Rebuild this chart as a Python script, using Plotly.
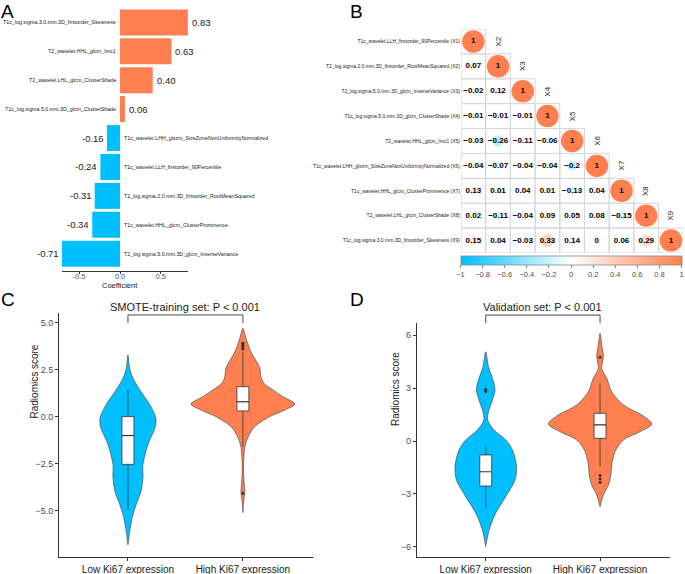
import numpy as np
import plotly.graph_objects as go

W, H = 685, 574
FONT = "Liberation Sans, Arial, sans-serif"
BLUE = "#00BFFF"
ORANGE = "#FF7F50"
AXC = "#333333"
TICKC = "#4D4D4D"

# ---------------- Panel A data ----------------
coef_features = [
    "T1c_log.sigma.3.0.mm.3D_firstorder_Skewness",
    "T2_wavelet.HHL_glcm_Imc1",
    "T2_wavelet.LHL_glcm_ClusterShade",
    "T1c_log.sigma.5.0.mm.3D_glcm_ClusterShade",
    "T1c_wavelet.LHH_glszm_SizeZoneNonUniformityNormalized",
    "T1c_wavelet.LLH_firstorder_90Percentile",
    "T2_log.sigma.2.0.mm.3D_firstorder_RootMeanSquared",
    "T1c_wavelet.HHL_glcm_ClusterProminence",
    "T2_log.sigma.5.0.mm.3D_glcm_InverseVariance",
]
coef_values = [0.83, 0.63, 0.40, 0.06, -0.16, -0.24, -0.31, -0.34, -0.71]
coef_tickvals = [-0.5, 0.0, 0.5]
coef_ticktext = ["-0.5", "0.0", "0.5"]

# ---------------- Panel B data ----------------
corr_row_labels = [
    "T1c_wavelet.LLH_firstorder_90Percentile (X1)",
    "T2_log.sigma.2.0.mm.3D_firstorder_RootMeanSquared (X2)",
    "T2_log.sigma.5.0.mm.3D_glcm_InverseVariance (X3)",
    "T1c_log.sigma.5.0.mm.3D_glcm_ClusterShade (X4)",
    "T2_wavelet.HHL_glcm_Imc1 (X5)",
    "T1c_wavelet.LHH_glszm_SizeZoneNonUniformityNormalized (X6)",
    "T1c_wavelet.HHL_glcm_ClusterProminence (X7)",
    "T2_wavelet.LHL_glcm_ClusterShade (X8)",
    "T1c_log.sigma.3.0.mm.3D_firstorder_Skewness (X9)",
]
corr_col_labels = ["X1", "X2", "X3", "X4", "X5", "X6", "X7", "X8", "X9"]
corr_lower = [
    [1],
    [0.07, 1],
    [-0.02, 0.12, 1],
    [-0.01, -0.01, -0.01, 1],
    [-0.03, -0.26, -0.11, -0.06, 1],
    [-0.04, -0.07, -0.04, -0.04, -0.2, 1],
    [0.13, 0.01, 0.04, 0.01, -0.13, 0.04, 1],
    [0.02, -0.11, -0.04, 0.09, 0.05, 0.08, -0.15, 1],
    [0.15, 0.04, -0.03, 0.33, 0.14, 0, 0.06, 0.29, 1],
]
cbar_tickvals = [-1, -0.8, -0.6, -0.4, -0.2, 0, 0.2, 0.4, 0.6, 0.8, 1]
cbar_ticktext = ["\u22121", "\u22120.8", "\u22120.6", "\u22120.4", "\u22120.2", "0",
                 "0.2", "0.4", "0.6", "0.8", "1"]

# ---------------- Panels C / D data ----------------
groups = ["Low Ki67 expression", "High Ki67 expression"]

# violin outlines: score level and half width (category units)
c_low_y = [3.30, 2.59, 2.06, 1.35, 0.64, -0.07, -0.60, -1.31, -2.02, -2.55, -3.26, -3.97, -4.68, -5.39, -6.10, -6.81]
c_low_w = [0.0, 0.015, 0.043, 0.113, 0.191, 0.243, 0.235, 0.183, 0.148, 0.130, 0.130, 0.113, 0.070, 0.035, 0.015, 0.0]
c_high_y = [4.72, 4.27, 3.83, 3.39, 2.94, 2.59, 2.14, 1.79, 1.44, 1.08, 0.69, 0.37, 0.02, -0.51, -1.05, -1.58, -2.11, -2.82, -3.53, -3.97, -4.50, -5.09]
c_high_w = [0.0, 0.023, 0.046, 0.076, 0.119, 0.148, 0.157, 0.183, 0.261, 0.348, 0.452, 0.365, 0.235, 0.104, 0.046, 0.017, 0.009, 0.006, 0.011, 0.017, 0.006, 0.0]
d_low_y = [5.05, 4.20, 3.45, 2.89, 2.32, 1.66, 1.19, 0.62, 0.06, -0.51, -1.45, -2.21, -3.15, -4.09, -5.04, -5.98]
d_low_w = [0.0, 0.024, 0.064, 0.081, 0.059, 0.024, 0.017, 0.073, 0.175, 0.234, 0.269, 0.256, 0.175, 0.087, 0.029, 0.0]
d_high_y = [6.09, 5.43, 4.77, 4.11, 3.55, 2.79, 2.04, 1.47, 0.96, 0.53, 0.06, -0.60, -1.36, -1.92, -2.49, -3.06, -3.72]
d_high_w = [0.0, 0.015, 0.029, 0.015, 0.059, 0.102, 0.204, 0.365, 0.452, 0.350, 0.204, 0.131, 0.102, 0.094, 0.073, 0.029, 0.0]

# box statistics [low, high]
c_q1 = [-2.52, 0.32]
c_med = [-0.99, 0.81]
c_q3 = [0.02, 1.61]
c_lo = [-4.95, -1.60]
c_hi = [1.44, 3.47]
c_out_x = [1, 1, 1, 1, 1]
c_out_y = [3.62, 3.72, 3.82, 3.92, -4.06]

d_q1 = [-2.55, 0.15]
d_med = [-1.74, 0.91]
d_q3 = [-0.79, 1.57]
d_lo = [-3.81, -1.45]
d_hi = [-0.28, 3.27]
d_out_x = [0, 0, 1, 1, 1, 1]
d_out_y = [2.80, 2.92, 4.74, -1.95, -2.15, -2.35]

c_yticks = [5.0, 2.5, 0.0, -2.5, -5.0]
c_yticktext = ["5.0", "2.5", "0.0", "\u22122.5", "\u22125.0"]
d_yticks = [6, 3, 0, -3, -6]
d_yticktext = ["6", "3", "0", "\u22123", "\u22126"]


def pxx(px):
    return px / W


def pxy(py):
    return 1 - py / H


fig = go.Figure()
annotations = []
shapes = []

# ---------------- Panel A ----------------
bar_y = list(range(len(coef_values)))
fig.add_trace(go.Bar(
    x=coef_values, y=bar_y, orientation="h", width=0.9,
    marker=dict(color=[ORANGE if v > 0 else BLUE for v in coef_values], line=dict(width=0)),
    xaxis="x", yaxis="y", showlegend=False, hoverinfo="skip"))
for i, (name, v) in enumerate(zip(coef_features, coef_values)):
    pos = v > 0
    annotations.append(dict(
        x=v, y=i, xref="x", yref="y", text=f"{v:.2f}", showarrow=False,
        xanchor="left" if pos else "right", xshift=2 if pos else -1,
        font=dict(size=9.5, color="#1A1A1A", family=FONT)))
    annotations.append(dict(
        x=0, y=i, xref="x", yref="y", text=name, showarrow=False,
        xanchor="right" if pos else "left", xshift=-2 if pos else 2,
        font=dict(size=5.3, color="#1A1A1A", family=FONT)))
annotations.append(dict(x=pxx(120), y=pxy(285), xref="paper", yref="paper", text="Coefficient",
                        showarrow=False, xanchor="center", yanchor="middle",
                        font=dict(size=7.5, color="#1A1A1A", family=FONT)))

# ---------------- Panel B ----------------
bx, by, bv, bt = [], [], [], []
for i, row in enumerate(corr_lower):
    for j, v in enumerate(row):
        bx.append(j)
        by.append(i)
        bv.append(v)
        s = f"{v:.2f}".rstrip("0").rstrip(".")
        if s in ("-0", ""):
            s = "0"
        bt.append(s.replace("-", "\u2212"))
        shapes.append(dict(type="rect", xref="x2", yref="y2", x0=j - 0.5, x1=j + 0.5,
                           y0=i - 0.5, y1=i + 0.5, line=dict(color="#D6D6D6", width=1),
                           layer="below"))
fig.add_trace(go.Scatter(
    x=bx, y=by, mode="markers+text", text=bt, textposition="middle center",
    textfont=dict(size=8, color="#000000", family=FONT, weight="bold"),
    marker=dict(size=[22.5 * np.sqrt(abs(v)) for v in bv], color=bv, cmin=-1, cmax=1,
                opacity=1,
                colorscale=[[0, BLUE], [0.5, "#FFFFFF"], [1, ORANGE]], line=dict(width=0),
                showscale=True,
                colorbar=dict(orientation="h", x=pxx(571), xanchor="center", y=pxy(256),
                              yanchor="top", len=221 / W, lenmode="fraction", thickness=9,
                              xpad=0, ypad=0, tickvals=cbar_tickvals, ticktext=cbar_ticktext,
                              tickfont=dict(size=7.5, color=TICKC, family=FONT),
                              ticks="outside", ticklen=3, tickcolor="#888888",
                              outlinewidth=0.8, outlinecolor="#888888")),
    xaxis="x2", yaxis="y2", showlegend=False, hoverinfo="skip", cliponaxis=False))
for j, lab in enumerate(corr_col_labels):
    annotations.append(dict(x=j, y=j - 1, xref="x2", yref="y2", text=lab, showarrow=False,
                            textangle=-90, font=dict(size=8, color="#222222", family=FONT)))

# ---------------- Panels C / D ----------------
BOX_HALF = 0.052


def add_violin_panel(xa, ya, profiles, q1, med, q3, lo, hi, out_x, out_y):
    for pos, (yy, ww, col) in enumerate(profiles):
        yy = np.array(yy)
        ww = np.array(ww)
        # violin outline
        fig.add_trace(go.Scatter(
            x=np.concatenate([pos + ww, (pos - ww)[::-1]]),
            y=np.concatenate([yy, yy[::-1]]),
            mode="lines", fill="toself", fillcolor=col,
            line=dict(color="#4D4D4D", width=0.7, shape="spline", smoothing=0.9),
            xaxis=xa, yaxis=ya, showlegend=False, hoverinfo="skip"))
        # whiskers
        fig.add_trace(go.Scatter(
            x=[pos, pos, None, pos, pos], y=[lo[pos], q1[pos], None, q3[pos], hi[pos]],
            mode="lines", line=dict(color=AXC, width=0.8),
            xaxis=xa, yaxis=ya, showlegend=False, hoverinfo="skip"))
        # box
        bl, br = pos - BOX_HALF, pos + BOX_HALF
        fig.add_trace(go.Scatter(
            x=[bl, br, br, bl, bl], y=[q1[pos], q1[pos], q3[pos], q3[pos], q1[pos]],
            mode="lines", fill="toself", fillcolor="#FFFFFF",
            line=dict(color=AXC, width=0.8),
            xaxis=xa, yaxis=ya, showlegend=False, hoverinfo="skip"))
        # median
        fig.add_trace(go.Scatter(
            x=[bl, br], y=[med[pos], med[pos]], mode="lines",
            line=dict(color=AXC, width=1.2),
            xaxis=xa, yaxis=ya, showlegend=False, hoverinfo="skip"))
    fig.add_trace(go.Scatter(
        x=out_x, y=out_y, mode="markers", marker=dict(size=3, color=AXC),
        xaxis=xa, yaxis=ya, showlegend=False, hoverinfo="skip"))


add_violin_panel("x3", "y3",
                 [(c_low_y, c_low_w, BLUE), (c_high_y, c_high_w, ORANGE)],
                 c_q1, c_med, c_q3, c_lo, c_hi, c_out_x, c_out_y)
add_violin_panel("x4", "y4",
                 [(d_low_y, d_low_w, BLUE), (d_high_y, d_high_w, ORANGE)],
                 d_q1, d_med, d_q3, d_lo, d_hi, d_out_x, d_out_y)

brackets = [("x3", "y3", 0.959, 0.992, "SMOTE-training set: P < 0.001"),
            ("x4", "y4", 0.999, 1.034, "Validation set: P < 0.001")]
for xa, ya, b0, b1, title in brackets:
    shapes.append(dict(type="path", xref=xa, yref=f"{ya} domain",
                       path=f"M 0,{b0} L 0,{b1} L 1,{b1} L 1,{b0}",
                       line=dict(color=AXC, width=0.9)))
    annotations.append(dict(x=0.5, y=b1, xref=xa, yref=f"{ya} domain", text=title,
                            showarrow=False, yanchor="bottom", xanchor="center", yshift=0,
                            font=dict(size=11, color="#1A1A1A", family=FONT)))

annotations.append(dict(x=pxx(26), y=pxy(421), xref="paper", yref="paper", text="Radiomics score",
                        showarrow=False, textangle=-90, font=dict(size=10, color="#1A1A1A", family=FONT)))
annotations.append(dict(x=pxx(395), y=pxy(428), xref="paper", yref="paper", text="Radiomics score",
                        showarrow=False, textangle=-90, font=dict(size=10, color="#1A1A1A", family=FONT)))

for letter, lx, ly in [("A", 0, 0), ("B", 349, 0), ("C", 0, 288), ("D", 349, 288)]:
    annotations.append(dict(x=pxx(lx), y=pxy(ly), xref="paper", yref="paper", text=letter,
                            showarrow=False, xanchor="left", yanchor="top", borderpad=0,
                            font=dict(size=19, color="#000000", family=FONT)))

common_ax = dict(showgrid=False, zeroline=False)
fig.update_layout(
    width=W, height=H, margin=dict(l=0, r=0, t=0, b=0),
    paper_bgcolor="white", plot_bgcolor="white", showlegend=False,
    font=dict(family=FONT),
    xaxis=dict(domain=[pxx(62), pxx(188)], range=[-0.71, 0.832], anchor="y",
               tickvals=coef_tickvals, ticktext=coef_ticktext, showline=True,
               linecolor=AXC, linewidth=0.8, ticks="outside", ticklen=2, tickcolor=AXC,
               ticklabelstandoff=-4,
               tickfont=dict(size=7.2, color=TICKC, family=FONT), **common_ax),
    yaxis=dict(domain=[pxy(271), pxy(8)], range=[8.6, -0.5], anchor="x", visible=False,
               **common_ax),
    xaxis2=dict(domain=[pxx(461), pxx(683.3)], range=[-0.5, 8.5], anchor="y2", visible=False,
                **common_ax),
    yaxis2=dict(domain=[pxy(253), pxy(29)], range=[8.5, -0.5], anchor="x2",
                tickvals=list(range(9)), ticktext=corr_row_labels, ticks="", showline=False,
                tickfont=dict(size=5, color="#222222", family=FONT), **common_ax),
    xaxis3=dict(domain=[pxx(59), pxx(313)], range=[-0.6, 1.61], anchor="y3", type="linear",
                tickvals=[0, 1], ticktext=groups, showline=True, linecolor=AXC, linewidth=1,
                ticks="outside", ticklen=3, tickcolor=AXC,
                tickfont=dict(size=10, color="#1A1A1A", family=FONT), **common_ax),
    yaxis3=dict(domain=[pxy(557), pxy(313)], range=[-7.45, 5.53], anchor="x3",
                tickvals=c_yticks, ticktext=c_yticktext, showline=True, linecolor=AXC,
                linewidth=1, ticks="outside", ticklen=3, tickcolor=AXC,
                tickfont=dict(size=9, color=TICKC, family=FONT), **common_ax),
    xaxis4=dict(domain=[pxx(416.7), pxx(670)], range=[-0.604, 1.612], anchor="y4", type="linear",
                tickvals=[0, 1], ticktext=groups, showline=True, linecolor=AXC, linewidth=1,
                ticks="outside", ticklen=3, tickcolor=AXC,
                tickfont=dict(size=10, color="#1A1A1A", family=FONT), **common_ax),
    yaxis4=dict(domain=[pxy(556.7), pxy(323)], range=[-6.55, 6.68], anchor="x4",
                tickvals=d_yticks, ticktext=d_yticktext, showline=True, linecolor=AXC,
                linewidth=1, ticks="outside", ticklen=3, tickcolor=AXC,
                tickfont=dict(size=9, color=TICKC, family=FONT), **common_ax),
    annotations=annotations, shapes=shapes,
)

fig.write_html("out.html", config={"displayModeBar": False},
               post_script="document.body.style.margin='0';document.body.style.padding='0';")
